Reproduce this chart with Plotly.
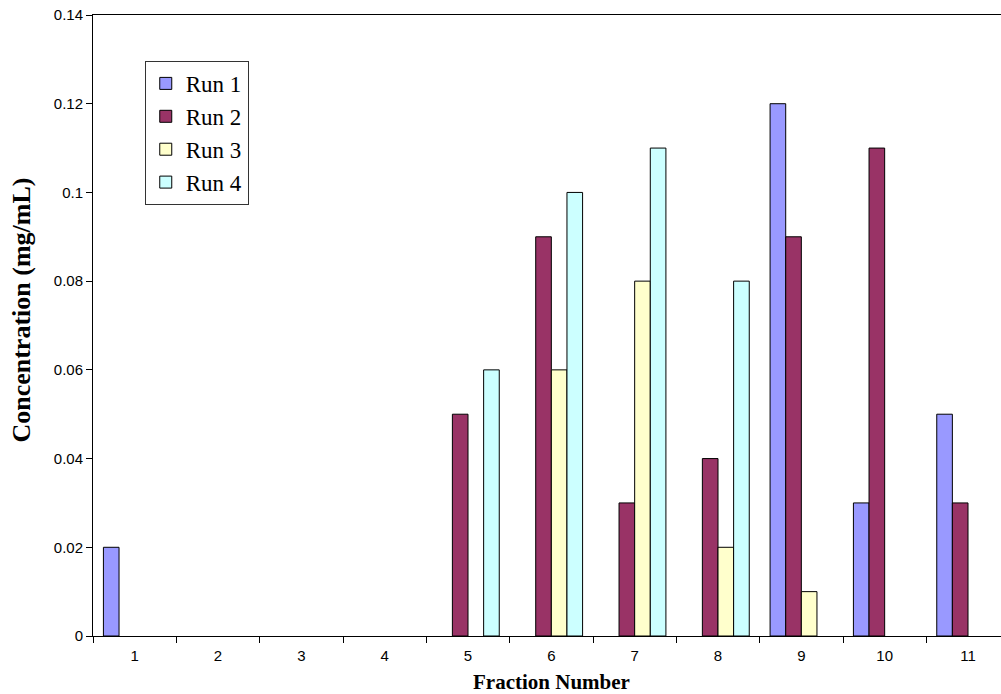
import plotly.graph_objects as go

categories = ["1", "2", "3", "4", "5", "6", "7", "8", "9", "10", "11"]
run1 = [0.02, 0, 0, 0, 0, 0, 0, 0, 0.12, 0.03, 0.05]
run2 = [0, 0, 0, 0, 0.05, 0.09, 0.03, 0.04, 0.09, 0.11, 0.03]
run3 = [0, 0, 0, 0, 0, 0.06, 0.08, 0.02, 0.01, 0, 0]
run4 = [0, 0, 0, 0, 0.06, 0.10, 0.11, 0.08, 0, 0, 0]
series_names = ["Run 1", "Run 2", "Run 3", "Run 4"]
colors = ["#9999FF", "#993366", "#FFFFCC", "#CCFFFF"]
y_ticks = [0, 0.02, 0.04, 0.06, 0.08, 0.1, 0.12, 0.14]
y_tick_text = ["0", "0.02", "0.04", "0.06", "0.08", "0.1", "0.12", "0.14"]

fig = go.Figure()
for name, vals, col in zip(series_names, [run1, run2, run3, run4], colors):
    # zero-valued bars are not drawn (as in the original chart)
    fig.add_trace(go.Bar(
        x=categories, y=[v if v else None for v in vals], name=name, legendgroup=name,
        marker=dict(color=col, line=dict(color="black", width=1)),
    ))

fig.update_layout(
    width=1001, height=694,
    margin=dict(l=93, r=0, t=15, b=58),
    paper_bgcolor="white", plot_bgcolor="white",
    barmode="group", bargap=0.25, bargroupgap=0,
    showlegend=True,
    legend=dict(
        x=0.057, y=0.926, xanchor="left", yanchor="top",
        bgcolor="white", bordercolor="#333333", borderwidth=1,
        font=dict(family="Liberation Serif", size=23, color="black"),
        tracegroupgap=0, itemwidth=30,
    ),
    font=dict(family="Liberation Sans", size=15, color="black"),
)

fig.update_xaxes(
    type="category", range=[-0.5, 10.396],
    tickson="boundaries", ticks="outside", ticklen=6, tickcolor="black",
    showline=True, linecolor="black", linewidth=1, mirror=True,
    showgrid=False, zeroline=False, ticklabelstandoff=6,
    tickfont=dict(family="Liberation Sans", size=15, color="black"),
)
fig.update_yaxes(
    range=[0, 0.14], tickvals=y_ticks, ticktext=y_tick_text,
    ticks="outside", ticklen=6, tickcolor="black",
    showline=True, linecolor="black", linewidth=1,
    showgrid=False, zeroline=False,
    tickfont=dict(family="Liberation Sans", size=15, color="black"),
)

fig.add_annotation(
    text="<b>Fraction Number</b>", xref="paper", yref="paper",
    x=0.505, y=0, yanchor="middle", xanchor="center", yshift=-46, showarrow=False,
    font=dict(family="Liberation Serif", size=21, color="black"),
)
fig.add_annotation(
    text="<b>Concentration (mg/mL)</b>", xref="paper", yref="paper",
    x=0, y=0.524, xanchor="center", yanchor="middle", xshift=-71, textangle=-90,
    showarrow=False,
    font=dict(family="Liberation Serif", size=26, color="black"),
)

fig.write_html("out.html")
